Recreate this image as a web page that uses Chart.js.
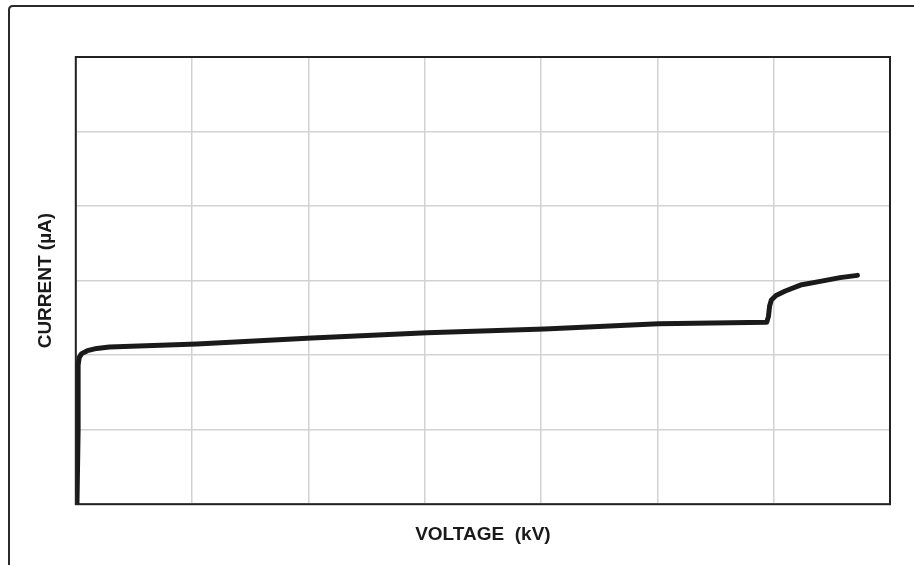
<!DOCTYPE html>
<html>
<head>
<meta charset="utf-8">
<script src="https://cdn.jsdelivr.net/npm/chart.js@4"></script>
<style>
  html, body { margin: 0; padding: 0; background: #fff; }
  #wrap { width: 914px; height: 565px; position: relative; }
</style>
</head>
<body>
<div id="wrap"><canvas id="ivChart"></canvas></div>
<script>
const voltage = [0.01, 0.02, 0.02, 0.03, 0.05, 0.1, 0.18, 0.29, 1.04, 2.03, 3.02, 4.03, 5.01, 5.94, 5.955, 5.965, 5.98, 6.02, 6.1, 6.23, 6.4, 6.57, 6.72];
const current = [0, 1.0, 1.87, 1.97, 2.02, 2.06, 2.09, 2.11, 2.15, 2.23, 2.3, 2.35, 2.42, 2.44, 2.52, 2.66, 2.74, 2.8, 2.86, 2.94, 2.99, 3.04, 3.07];
const xRange = [0, 7];
const yRange = [0, 6];
const xTitle = "VOLTAGE  (kV)";
const yTitle = "CURRENT (\u00b5A)";

// page frame and plot border, like the printed figure
const frameBox = {
  id: "frameBox",
  beforeDraw(chart) {
    const ctx = chart.ctx;
    ctx.save();
    ctx.strokeStyle = "#2a2a2a";
    ctx.lineWidth = 2;
    ctx.beginPath();
    ctx.moveTo(9, 565);
    ctx.lineTo(9, 10);
    ctx.quadraticCurveTo(9, 6, 13, 6);
    ctx.lineTo(914, 6);
    ctx.stroke();
    ctx.restore();
  },
  afterDatasetsDraw(chart) {
    const { left, top, right, bottom } = chart.chartArea;
    const ctx = chart.ctx;
    ctx.save();
    ctx.strokeStyle = "#222";
    ctx.lineWidth = 2;
    ctx.strokeRect(left, top, right - left, bottom - top);
    ctx.restore();
  },
};

function drawIvChart() {
  const ctx = document.getElementById("ivChart");
  if (!ctx || !window.Chart) {
    return;
  }

  new Chart(ctx, {
    type: "line",
    data: {
      datasets: [
        {
          data: voltage.map((v, i) => ({ x: v, y: current[i] })),
          borderColor: "#1a1a1a",
          borderWidth: 5,
          borderJoinStyle: "round",
          borderCapStyle: "round",
          pointRadius: 0,
          tension: 0,
          fill: false,
        },
      ],
    },
    options: {
      responsive: true,
      maintainAspectRatio: false,
      animation: false,
      layout: { padding: { left: 20, top: 57, right: 24, bottom: 6 } },
      plugins: { legend: { display: false }, tooltip: { enabled: false } },
      scales: {
        x: {
          type: "linear",
          min: xRange[0],
          max: xRange[1],
          ticks: { display: false, stepSize: 1 },
          grid: { color: "#d2d2d2", lineWidth: 1.5, drawTicks: false },
          border: { display: false },
          title: {
            display: true,
            text: xTitle,
            color: "#1a1a1a",
            font: { family: "Liberation Sans", size: 19, weight: "bold" },
            padding: { top: 19, bottom: 13 },
          },
        },
        y: {
          type: "linear",
          min: yRange[0],
          max: yRange[1],
          ticks: { display: false, stepSize: 1 },
          grid: { color: "#d2d2d2", lineWidth: 1.5, drawTicks: false },
          border: { display: false },
          title: {
            display: true,
            text: yTitle,
            color: "#1a1a1a",
            font: { family: "Liberation Sans", size: 19, weight: "bold" },
            padding: { top: 14, bottom: 19 },
          },
        },
      },
    },
    plugins: [frameBox],
  });
}

drawIvChart();
</script>
</body>
</html>
